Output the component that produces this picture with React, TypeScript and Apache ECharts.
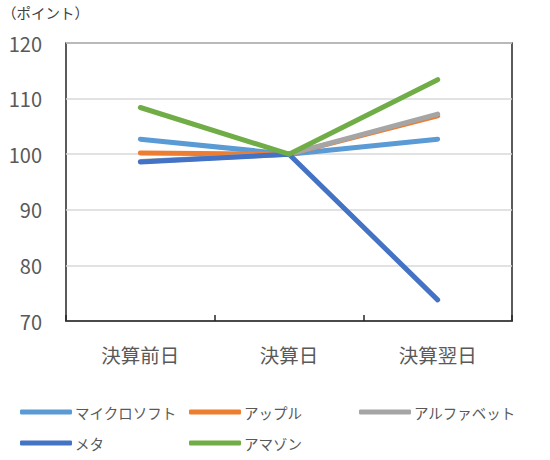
import React, { useEffect, useRef } from "react";
import * as echarts from "echarts";

const categories = ["決算前日", "決算日", "決算翌日"];
const seriesNames = ["マイクロソフト", "アップル", "アルファベット", "メタ", "アマゾン"];
const microsoft = [102.7, 100, 102.7];
const apple = [100.2, 100, 106.9];
const alphabet = [98.7, 100, 107.2];
const meta = [98.6, 100, 73.8];
const amazon = [108.4, 100, 113.4];
const colors = ["#5B9BD5", "#ED7D31", "#A5A5A5", "#4472C4", "#70AD47"];
const yTicks = [70, 80, 90, 100, 110, 120];
const unitLabel = "（ポイント）";

const FONT = "'Noto Sans CJK JP', 'Noto Sans', sans-serif";

export default function App() {
  const ref = useRef<HTMLDivElement>(null);
  useEffect(() => {
    if (!ref.current) return;
    const chart = echarts.init(ref.current, undefined, { renderer: "svg" });
    const values = [microsoft, apple, alphabet, meta, amazon];
    const legendPos = [
      { left: 20, top: 402 },
      { left: 189, top: 402 },
      { left: 359, top: 402 },
      { left: 20, top: 433 },
      { left: 189, top: 433 },
    ];
    chart.setOption({
      animation: false,
      color: colors,
      textStyle: { fontFamily: FONT },
      grid: {
        left: 66,
        right: 38,
        top: 43,
        bottom: 139,
        show: true,
        borderColor: "#262626",
        borderWidth: 1.5,
      },
      graphic: [
        {
          type: "text",
          left: 2,
          top: 5,
          style: { text: unitLabel, fontSize: 14.5, fill: "#404040", fontFamily: FONT },
        },
      ],
      legend: seriesNames.map((n, i) => ({
        data: [n],
        left: legendPos[i].left,
        top: legendPos[i].top,
        padding: 0,
        itemWidth: 52,
        itemHeight: 5,
        icon: "roundRect",
        textStyle: { fontSize: 14.5, color: "#595959", fontFamily: FONT, lineHeight: 20, padding: [0, 0, 0, -2] },
      })),
      xAxis: {
        type: "category",
        data: categories,
        boundaryGap: true,
        axisLine: { lineStyle: { color: "#262626", width: 1.5 } },
        axisTick: { show: true, inside: true, length: 6, lineStyle: { color: "#262626", width: 1.5 } },
        axisLabel: { fontSize: 19.5, color: "#595959", margin: 24, fontFamily: FONT },
      },
      yAxis: {
        type: "value",
        min: yTicks[0],
        max: yTicks[yTicks.length - 1],
        interval: 10,
        axisLine: { show: false },
        axisTick: { show: false },
        axisLabel: { fontSize: 20, color: "#595959", margin: 24, fontFamily: FONT },
        splitLine: { lineStyle: { color: "#D9D9D9", width: 1.5 } },
      },
      series: seriesNames.map((n, i) => ({
        name: n,
        type: "line",
        data: values[i],
        symbol: "none",
        lineStyle: { width: 5, color: colors[i], cap: "round", join: "round" },
        itemStyle: { color: colors[i] },
      })),
    });
    return () => chart.dispose();
  }, []);
  return (
    <div
      ref={ref}
      style={{ position: "fixed", left: 0, top: 0, width: 550, height: 460, background: "#fff" }}
    />
  );
}
